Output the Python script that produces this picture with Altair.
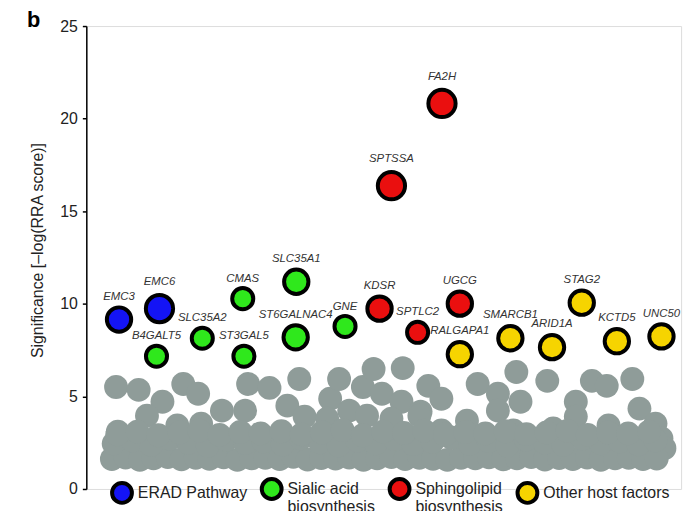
import altair as alt
import pandas as pd

# ---- highlighted hits ----
genes = ["EMC3", "EMC6", "B4GALT5", "SLC35A2", "CMAS", "ST3GAL5", "SLC35A1",
         "ST6GALNAC4", "GNE", "KDSR", "SPTSSA", "FA2H", "SPTLC2", "UGCG",
         "RALGAPA1", "SMARCB1", "ARID1A", "STAG2", "KCTD5", "UNC50"]
groups = ["ERAD Pathway", "ERAD Pathway",
          "Sialic acid biosynthesis", "Sialic acid biosynthesis", "Sialic acid biosynthesis",
          "Sialic acid biosynthesis", "Sialic acid biosynthesis", "Sialic acid biosynthesis",
          "Sialic acid biosynthesis",
          "Sphingolipid biosynthesis", "Sphingolipid biosynthesis", "Sphingolipid biosynthesis",
          "Sphingolipid biosynthesis", "Sphingolipid biosynthesis",
          "Other host factors", "Other host factors", "Other host factors",
          "Other host factors", "Other host factors", "Other host factors"]
hit_pos = [5.5, 12.3, 11.8, 19.5, 26.3, 26.5, 35.3, 35.2, 43.5, 49.3, 51.3, 59.8,
           55.7, 62.8, 62.8, 71.3, 78.3, 83.3, 89.2, 96.7]
hit_sig = [9.15, 9.74, 7.17, 8.14, 10.28, 7.17, 11.19, 8.19, 8.78, 9.74, 16.38, 20.82,
           8.46, 10.01, 7.28, 8.14, 7.66, 10.06, 7.98, 8.24]
hit_sgrnas = [3, 4, 2, 2, 2, 2, 3, 3, 2, 3, 4, 4, 2, 3, 3, 3, 3, 3, 3, 3]

group_order = ["ERAD Pathway", "Sialic acid biosynthesis",
               "Sphingolipid biosynthesis", "Other host factors"]
group_colors = ["#1414f5", "#2fe81c", "#ea0f0f", "#f6d400"]

# ---- background (non-significant) genes ----
bg_pos = [5.0, 8.8, 16.3, 18.8, 12.8, 10.2, 5.3, 15.3, 19.3, 22.8, 26.7, 27.2, 30.8,
          33.8, 36.7, 35.8, 41.0, 42.5, 44.2, 46.5, 48.3, 49.7, 53.2, 53.0, 56.2, 57.5,
          59.7, 59.7, 64.0, 65.8, 69.2, 69.2, 73.0, 72.3, 77.5, 78.5, 82.3, 82.3, 85.0,
          87.5, 87.8, 91.8, 93.0, 95.7, 91.5, 96.7, 97.2, 47.2, 56.0, 40.5, 51.3, 71.8,
          4.3, 6.6, 9.0, 11.3, 13.7, 16.0, 18.4, 20.7, 23.1, 25.4, 27.8, 30.1, 32.5, 34.8,
          37.2, 39.5, 41.9, 44.2, 46.6, 48.9, 51.3, 53.6, 56.0, 58.3, 60.7, 63.0, 65.4,
          67.7, 70.1, 72.4, 74.8, 77.1, 79.5, 81.8, 84.2, 86.5, 88.9, 91.2, 93.6, 95.9,
          4.6, 7.8, 10.9, 14.1, 17.2, 20.4, 23.5, 26.7, 29.8, 33.0, 36.1, 39.3, 42.4,
          45.6, 48.7, 51.9, 55.0, 58.2, 61.3, 64.5, 67.6, 70.8, 73.9, 77.1, 80.2, 83.4,
          86.5, 89.7, 92.8, 95.7,
          5.2, 8.6, 12.1, 15.7, 19.0, 22.4, 25.9, 29.3, 32.8, 36.2, 39.6, 43.1, 46.5,
          49.9, 53.4, 56.8, 60.3, 63.7, 67.1, 70.5, 74.0, 77.4, 80.9, 84.3, 87.7, 91.1, 94.6]
bg_sig = [5.51, 5.35, 5.67, 5.14, 4.71, 3.96, 3.10, 3.43, 3.53, 4.23, 4.23, 5.67, 5.46,
          4.50, 3.91, 5.94, 4.87, 5.94, 4.23, 5.51, 6.48, 5.14, 6.53, 4.71, 4.18, 5.57,
          4.87, 3.16, 3.69, 5.67, 5.14, 4.23, 4.71, 6.32, 5.84, 3.27, 4.71, 3.91, 5.84,
          5.57, 3.43, 5.94, 4.34, 3.53, 2.84, 2.73, 2.20, 3.96, 3.96, 3.80, 3.80, 3.16,
          1.62, 1.70, 1.58, 1.66, 1.72, 1.60, 1.68, 1.63, 1.71, 1.57, 1.65, 1.69, 1.61,
          1.74, 1.59, 1.67, 1.64, 1.70, 1.58, 1.66, 1.72, 1.61, 1.68, 1.63, 1.57, 1.69,
          1.65, 1.71, 1.60, 1.66, 1.73, 1.59, 1.67, 1.62, 1.70, 1.58, 1.65, 1.69, 1.61, 1.64,
          2.45, 2.62, 2.38, 2.71, 2.50, 2.33, 2.66, 2.48, 2.57, 2.40, 2.74, 2.52, 2.36,
          2.61, 2.47, 2.69, 2.42, 2.55, 2.78, 2.44, 2.60, 2.35, 2.67, 2.51, 2.39, 2.72,
          2.46, 2.58, 2.41, 2.63,
          2.95, 3.10, 2.90, 3.05, 3.15, 2.92, 3.08, 3.00, 3.12, 2.95, 3.05, 3.18, 2.90,
          3.10, 3.02, 3.15, 2.93, 3.08, 3.00, 3.12, 2.96, 3.05, 3.14, 2.92, 3.06, 3.00, 3.10]

y_ticks = [0, 5, 10, 15, 20, 25]

hits = pd.DataFrame({"gene": genes, "group": groups, "pos": hit_pos,
                     "sig": hit_sig, "sgRNAs": hit_sgrnas})
bg = pd.DataFrame({"pos": bg_pos, "sig": bg_sig})

FONT = "Liberation Sans"

x_enc = alt.X("pos:Q", scale=alt.Scale(domain=[0, 100], nice=False, zero=False), axis=None)
y_enc = alt.Y("sig:Q", scale=alt.Scale(domain=[0, 25], nice=False),
              axis=alt.Axis(values=y_ticks, title="Significance [–log(RRA score)]",
                            grid=False, domainColor="black", domainWidth=1.5,
                            tickColor="black", tickWidth=1.5, tickSize=4,
                            labelFontSize=16, labelColor="#222", labelPadding=5,
                            labelFont=FONT, titleFont=FONT, titleFontSize=16,
                            titleFontWeight="normal", titleColor="#222",
                            titlePadding=14, titleY=226))

gray = alt.Chart(bg).mark_circle(color="#8f9c99", opacity=1, size=580).encode(
    x=x_enc, y=y_enc)

legend_labels = ("datum.label == 'Sphingolipid biosynthesis' ? "
                 "['Sphingolipid', 'biosynthesis'] : "
                 "datum.label == 'Sialic acid biosynthesis' ? "
                 "['Sialic acid', 'biosynthesis'] : datum.label")

pts = alt.Chart(hits).mark_circle(stroke="black", strokeWidth=4, opacity=1).encode(
    x=x_enc, y=y_enc,
    color=alt.Color("group:N", scale=alt.Scale(domain=group_order, range=group_colors),
                    legend=alt.Legend(
                        title=None, orient="none", legendX=24, legendY=455,
                        direction="horizontal", columns=4, symbolType="circle",
                        symbolSize=400, symbolStrokeColor="black", symbolStrokeWidth=4,
                        symbolOpacity=1, labelFont=FONT, labelFontSize=16,
                        labelColor="#222", labelLimit=300, labelOffset=4,
                        columnPadding=6, labelExpr=legend_labels)),
    size=alt.Size("sgRNAs:O", scale=alt.Scale(domain=[2, 3, 4], range=[452, 755, 935]),
                  legend=None))

def labels(n, dy):
    return alt.Chart(hits).transform_filter(alt.datum.sgRNAs == n).mark_text(
        font=FONT, fontStyle="italic", fontSize=11.5, color="#333", dy=dy,
        baseline="middle").encode(x=x_enc, y=y_enc, text="gene:N")

panel = alt.Chart(hits).mark_text(text="b", font=FONT, fontWeight="bold", fontSize=22,
                                  color="black", baseline="middle").encode(
    x=alt.value(-53), y=alt.value(-6))

chart = alt.layer(gray, pts, labels(2, -20), labels(3, -23), labels(4, -27),
                  panel.transform_filter(alt.datum.gene == "EMC3")).properties(
    width=600, height=467,
    autosize=alt.AutoSizeParams(type="none"),
    padding={"left": 79, "top": 16, "right": 10, "bottom": 20},
).configure_view(stroke=None).configure(background="white")

chart.save("out.html", embed_options={"renderer": "svg", "actions": False})
